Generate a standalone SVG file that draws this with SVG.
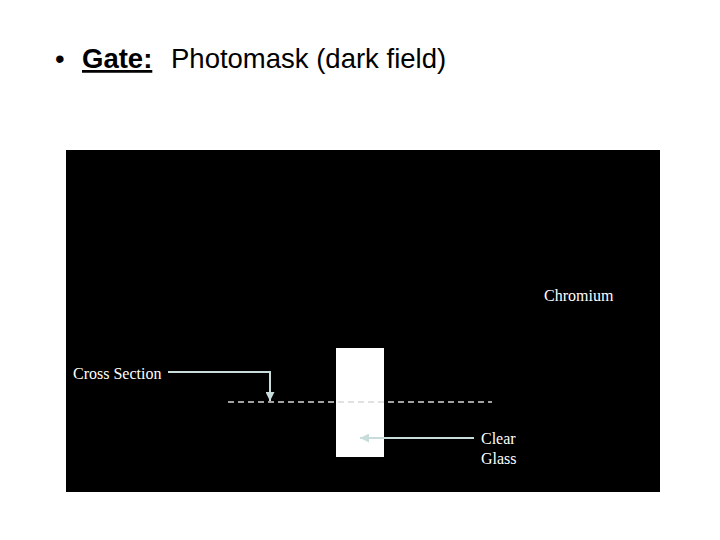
<svg xmlns="http://www.w3.org/2000/svg" width="720" height="540" viewBox="0 0 720 540">
  <defs>
    <style>
      .title { font-family: "Liberation Sans", Arial, sans-serif; font-size: 27.5px; fill: #000; }
      .lbl { font-family: "Liberation Serif", "Times New Roman", serif; font-size: 16px; fill: #fff; }
      .conn { stroke: #c9dcdc; stroke-width: 2; fill: none; }
      .dash { stroke: #d8d8d8; stroke-width: 1.3; stroke-dasharray: 6 4; fill: none; }
    </style>
    <marker id="arr" viewBox="0 0 10 10" refX="10" refY="5" markerWidth="4.5" markerHeight="4.5" orient="auto" markerUnits="strokeWidth">
      <path d="M0,0 L10,5 L0,10 z" fill="#c9dcdc"/>
    </marker>
  </defs>
  <rect width="720" height="540" fill="#fff"/>
  <g id="title">
    <text class="title" x="55" y="68">•</text>
    <text class="title" x="82" y="68" font-weight="bold" text-decoration="underline">Gate:</text>
    <text class="title" x="171" y="68">Photomask (dark field)</text>
  </g>
  <g id="mask">
    <rect x="66" y="150" width="594" height="342" fill="#000"/>
  </g>
  <g id="glass">
    <rect x="336" y="348" width="48" height="109" fill="#fff"/>
  </g>
  <g id="cut-line">
    <line class="dash" x1="228" y1="402" x2="492" y2="402"/>
  </g>
  <g id="chromium-label">
    <text class="lbl" x="544" y="301">Chromium</text>
  </g>
  <g id="cross-section-label">
    <text class="lbl" x="73" y="379">Cross Section</text>
  </g>
  <g id="clear-glass-label">
    <text class="lbl" x="481" y="444">Clear</text>
    <text class="lbl" x="481" y="464">Glass</text>
  </g>
  <g id="connectors">
    <path class="conn" d="M168,372 H270 V401" marker-end="url(#arr)"/>
    <path class="conn" d="M474,438 H360" marker-end="url(#arr)"/>
  </g>
</svg>
